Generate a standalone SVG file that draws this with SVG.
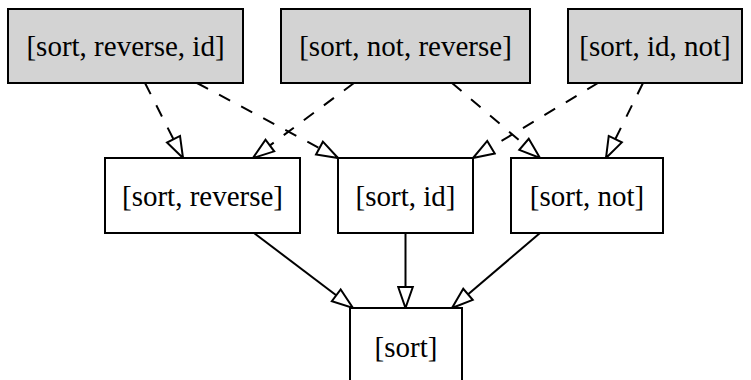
<svg xmlns="http://www.w3.org/2000/svg" width="751" height="380" viewBox="0 0 751 380">
  <style>
    .box { stroke: #000; stroke-width: 2; }
    .top { fill: #d3d3d3; }
    .plain { fill: #fff; }
    .label { font-family: "Liberation Serif", "Times New Roman", serif; font-size: 29px; fill: #000; text-anchor: middle; }
    .edge { fill: none; stroke: #000; stroke-width: 2; marker-end: url(#open); }
    .dashed { stroke-dasharray: 12.5 12.5; }
  </style>
  <defs>
    <marker id="open" markerUnits="userSpaceOnUse" viewBox="-23 -9 25 18" refX="0" refY="0" markerWidth="25" markerHeight="18" orient="auto">
      <path d="M0,0 L-21,-7.3 L-21,7.3 Z" fill="#fff" stroke="#000" stroke-width="2"/>
    </marker>
  </defs>

  <g id="edges">
    <path class="edge dashed" d="M145,83 L183,158"/>
    <path class="edge dashed" d="M197,83 L338,158"/>
    <path class="edge dashed" d="M354,83 L253,158"/>
    <path class="edge dashed" d="M452,83 L540,158"/>
    <path class="edge dashed" d="M598,83 L473,158"/>
    <path class="edge dashed" d="M643,83 L606,158"/>
    <path class="edge" d="M254,233 L353,308"/>
    <path class="edge" d="M405.5,233 L405.5,308"/>
    <path class="edge" d="M540,233 L452,308"/>
  </g>

  <g id="n_sort_reverse_id">
    <rect class="box top" x="8" y="9" width="235" height="74"/>
    <text class="label" x="125.5" y="56">[sort, reverse, id]</text>
  </g>
  <g id="n_sort_not_reverse">
    <rect class="box top" x="281" y="9" width="249" height="74"/>
    <text class="label" x="405.5" y="56">[sort, not, reverse]</text>
  </g>
  <g id="n_sort_id_not">
    <rect class="box top" x="568" y="9" width="174" height="74"/>
    <text class="label" x="655" y="56">[sort, id, not]</text>
  </g>

  <g id="n_sort_reverse">
    <rect class="box plain" x="105" y="158" width="195" height="75"/>
    <text class="label" x="202.5" y="206">[sort, reverse]</text>
  </g>
  <g id="n_sort_id">
    <rect class="box plain" x="338" y="158" width="135" height="75"/>
    <text class="label" x="405.5" y="206">[sort, id]</text>
  </g>
  <g id="n_sort_not">
    <rect class="box plain" x="511" y="158" width="152" height="75"/>
    <text class="label" x="587" y="206">[sort, not]</text>
  </g>

  <g id="n_sort">
    <rect class="box plain" x="350" y="308" width="112" height="76"/>
    <text class="label" x="406" y="357">[sort]</text>
  </g>
</svg>
